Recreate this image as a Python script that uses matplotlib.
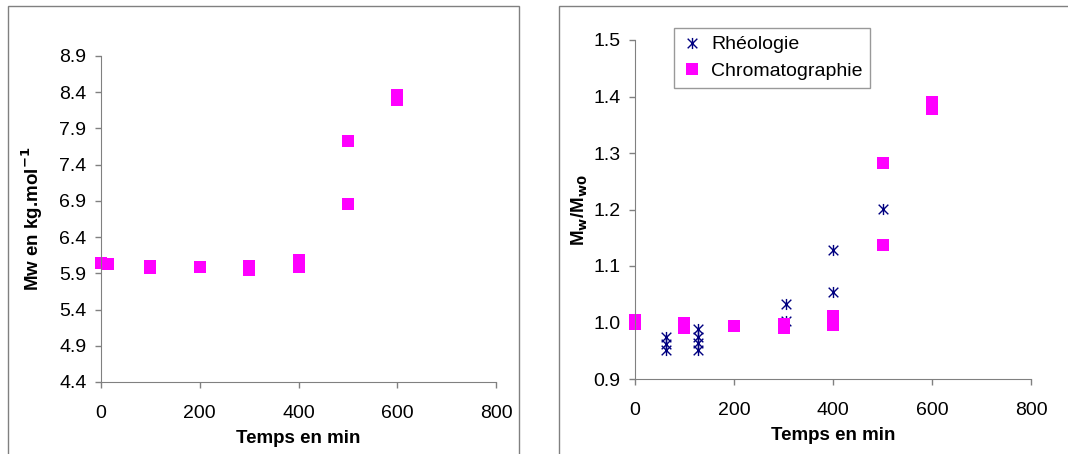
import matplotlib
matplotlib.use("Agg")
import matplotlib.pyplot as plt
from matplotlib.path import Path
from matplotlib.patches import Rectangle

plt.rcParams['font.family'] = ['Liberation Sans', 'DejaVu Sans']

# left panel : Mw (kg/mol) vs time
t_mw = [0, 15, 100, 100, 200, 300, 300, 400, 400, 500, 500, 600, 600]
mw = [6.04, 6.03, 5.98, 6.00, 5.99, 5.95, 6.00, 6.08, 5.99, 7.73, 6.86, 8.36, 8.29]

# right panel : Mw/Mw0
t_rheo = [62, 62, 62, 127, 127, 127, 127, 305, 305, 400, 400, 500]
r_rheo = [0.974, 0.962, 0.951, 0.989, 0.975, 0.963, 0.951, 1.032, 1.002, 1.128, 1.054, 1.201]
t_chro = [0, 0, 98, 98, 200, 300, 300, 400, 400, 400, 500, 500, 600, 600]
r_chro = [1.005, 0.998, 1.000, 0.991, 0.994, 0.998, 0.990, 1.011, 1.003, 0.995, 1.283, 1.138, 1.390, 1.377]

xticks = [0, 200, 400, 600, 800]
yticks_l = [4.4, 4.9, 5.4, 5.9, 6.4, 6.9, 7.4, 7.9, 8.4, 8.9]
yticks_r = [0.9, 1.0, 1.1, 1.2, 1.3, 1.4, 1.5]

pink = '#FF00FF'
navy = '#000080'
grey = '#808080'

# excel style asterisk marker
star = Path([(-1, -1), (1, 1), (-1, 1), (1, -1), (0, -1.15), (0, 1.15)],
            [Path.MOVETO, Path.LINETO, Path.MOVETO, Path.LINETO, Path.MOVETO, Path.LINETO])

fig = plt.figure(figsize=(10.68, 4.54), dpi=100)

# panel frames
fig.patches.append(Rectangle((8/1068, -0.01), 511/1068, 1 - 6/454 + 0.01, transform=fig.transFigure,
                             fill=False, edgecolor=grey, lw=1))
fig.patches.append(Rectangle((559/1068, -0.01), 1 - 559/1068 + 0.01, 1 - 6/454 + 0.01, transform=fig.transFigure,
                             fill=False, edgecolor=grey, lw=1))

ax1 = fig.add_axes([101/1068, 1 - 382/454, 395/1068, 326/454])
ax2 = fig.add_axes([635/1068, 1 - 379/454, 396/1068, 339/454])

ax1.plot(t_mw, mw, linestyle='none', marker='s', markersize=8.5, color=pink, markeredgewidth=0)
ax1.set_xlim(0, 800)
ax1.set_ylim(4.4, 8.9)
ax1.set_yticks(yticks_l)
ax1.set_yticklabels(['%.1f' % v for v in yticks_l])
ax1.set_ylabel('Mw en kg.mol$^{\\mathbf{-1}}$', fontsize=13.5, fontweight='bold', labelpad=10)

ax2.plot(t_rheo, r_rheo, linestyle='none', marker=star, markersize=8, color=navy,
         markeredgecolor=navy, markeredgewidth=1, label='Rhéologie')
ax2.plot(t_chro, r_chro, linestyle='none', marker='s', markersize=8.5, color=pink,
         markeredgewidth=0, label='Chromatographie')
ax2.set_xlim(0, 800)
ax2.set_ylim(0.9, 1.5)
ax2.set_yticks(yticks_r)
ax2.set_yticklabels(['%.1f' % v for v in yticks_r])
ax2.set_ylabel('M$_\\mathbf{w}$/M$_\\mathbf{w0}$', fontsize=13.5, fontweight='bold', labelpad=2)

leg = ax2.legend(loc='upper left', bbox_to_anchor=(674/1068, 1 - 28/454), bbox_transform=fig.transFigure,
                 fancybox=False, frameon=True, edgecolor=grey, fontsize=14, handlelength=1.0,
                 handletextpad=0.5, borderpad=0.4, labelspacing=0.45, borderaxespad=0)
leg.get_frame().set_linewidth(1)

for ax in (ax1, ax2):
    ax.set_xticks(xticks)
    ax.set_xlabel('Temps en min', fontsize=13.5, fontweight='bold', labelpad=6)
    for s in ('top', 'right'):
        ax.spines[s].set_visible(False)
    for s in ('left', 'bottom'):
        ax.spines[s].set_color(grey)
    ax.tick_params(axis='both', colors=grey, labelcolor='black', labelsize=14, length=4.5, width=1)
    ax.tick_params(axis='x', pad=12)
    ax.tick_params(axis='y', pad=6)
    for lab in ax.get_xticklabels() + ax.get_yticklabels():
        lab.set_clip_on(False)
    for line in ax.lines:
        line.set_clip_on(False)

fig.savefig('out.png', dpi=100)
